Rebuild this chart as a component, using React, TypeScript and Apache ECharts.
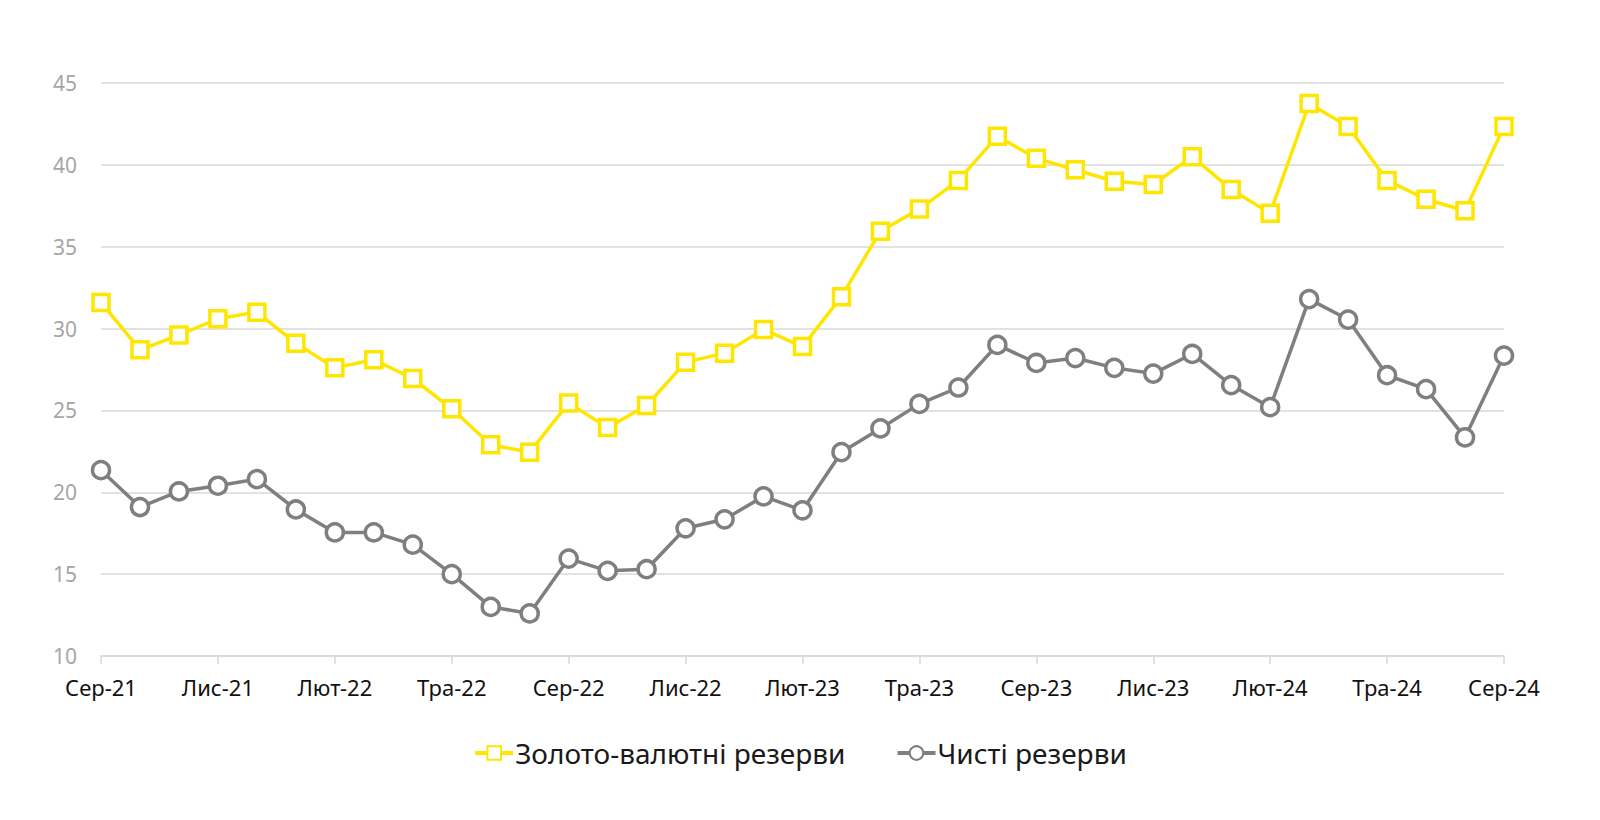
import React, { useEffect, useRef } from "react";
import * as echarts from "echarts";

const categories: string[] = [
  "Сер-21", "Вер-21", "Жов-21", "Лис-21", "Гру-21",
  "Січ-22", "Лют-22", "Бер-22", "Кві-22", "Тра-22", "Чер-22", "Лип-22",
  "Сер-22", "Вер-22", "Жов-22", "Лис-22", "Гру-22",
  "Січ-23", "Лют-23", "Бер-23", "Кві-23", "Тра-23", "Чер-23", "Лип-23",
  "Сер-23", "Вер-23", "Жов-23", "Лис-23", "Гру-23",
  "Січ-24", "Лют-24", "Бер-24", "Кві-24", "Тра-24", "Чер-24", "Лип-24",
  "Сер-24",
];

const goldFxReserves: number[] = [
  31.6, 28.7, 29.6, 30.6, 31.0, 29.1, 27.6, 28.1, 26.95, 25.1, 22.9, 22.45,
  25.45, 23.95, 25.3, 27.95, 28.5, 29.95, 28.9, 31.95, 35.95, 37.3, 39.05, 41.75,
  40.4, 39.7, 39.0, 38.8, 40.5, 38.5, 37.05, 43.75, 42.35, 39.05, 37.9, 37.2,
  42.35,
];

const netReserves: number[] = [
  21.35, 19.1, 20.05, 20.4, 20.8, 18.95, 17.55, 17.55, 16.8, 15.0, 13.0, 12.6,
  15.95, 15.2, 15.3, 17.8, 18.35, 19.75, 18.9, 22.45, 23.9, 25.4, 26.4, 29.0,
  27.9, 28.2, 27.6, 27.25, 28.45, 26.55, 25.2, 31.8, 30.55, 27.15, 26.3, 23.35,
  28.35,
];

const seriesNames = ["Золото-валютні резерви", "Чисті резерви"];
const yTicks = { min: 10, max: 45, interval: 5 };

export default function App() {
  const ref = useRef<HTMLDivElement>(null);
  useEffect(() => {
    if (!ref.current) return;
    const chart = echarts.init(ref.current, undefined, { renderer: "svg" });
    chart.setOption({
      animation: false,
      backgroundColor: "#ffffff",
      grid: { left: 101, right: 96, top: 83, bottom: 164, containLabel: false },
      legend: {
        bottom: 48,
        left: "center",
        itemWidth: 38,
        itemHeight: 17,
        itemGap: 50,
        lineStyle: { width: 4 },
        textStyle: { fontSize: 28, color: "#1a1a1a", fontFamily: "Noto Sans", padding: [0, 0, 0, -3] },
        data: seriesNames,
      },
      xAxis: {
        type: "category",
        boundaryGap: false,
        data: categories,
        axisLine: { lineStyle: { color: "#d9d9d9", width: 1.5 } },
        axisTick: { show: true, interval: 2, length: 8, lineStyle: { color: "#d9d9d9", width: 1.5 } },
        axisLabel: {
          interval: 2,
          margin: 20,
          fontSize: 22,
          color: "#111111",
          fontFamily: "Noto Sans",
        },
      },
      yAxis: {
        type: "value",
        min: yTicks.min,
        max: yTicks.max,
        interval: yTicks.interval,
        axisLine: { show: false },
        axisTick: { show: false },
        splitLine: { lineStyle: { color: "#d9d9d9", width: 1.5 } },
        axisLabel: { fontSize: 21, color: "#a6a6a6", margin: 24, fontFamily: "Noto Sans" },
      },
      series: [
        {
          name: seriesNames[0],
          type: "line",
          data: goldFxReserves,
          symbol: "rect",
          symbolSize: 16,
          lineStyle: { color: "#FFE600", width: 3.5 },
          itemStyle: { color: "#ffffff", borderColor: "#FFE600", borderWidth: 3.5 },
          z: 3,
        },
        {
          name: seriesNames[1],
          type: "line",
          data: netReserves,
          symbol: "circle",
          symbolSize: 17,
          lineStyle: { color: "#7f7f7f", width: 3.5 },
          itemStyle: { color: "#ffffff", borderColor: "#7f7f7f", borderWidth: 3.5 },
          z: 2,
        },
      ],
    });
    return () => chart.dispose();
  }, []);
  return (
    <div
      ref={ref}
      style={{ position: "fixed", left: 0, top: 0, width: 1600, height: 820 }}
    />
  );
}
